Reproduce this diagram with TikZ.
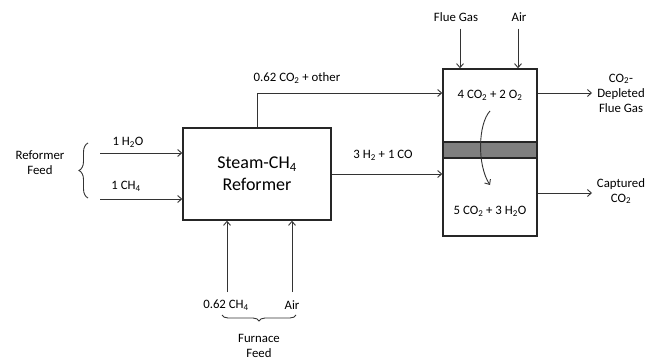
\documentclass[tikz,border=0pt]{standalone}
\usepackage{fontspec}
\setmainfont{Carlito}
\usetikzlibrary{arrows.meta, positioning, calc, decorations.pathreplacing}

\newcommand{\sbs}[1]{\textsubscript{#1}}

\begin{document}
\begin{tikzpicture}[
    x=1pt, y=-1pt,
    font=\fontsize{12.8}{15}\selectfont,
    unit/.style={draw=black!85, line width=1.5pt, inner sep=0pt},
    flow/.style={-{Straight Barb[length=4pt, width=7pt]}, line width=0.9pt, draw=black!80},
    brace/.style={decorate, decoration={brace, amplitude=9pt}, line width=0.9pt, draw=black!80},
    lbl/.style={align=center, inner sep=1pt}
]
    \useasboundingbox (0,0) rectangle (652,361);

    % Units
    \node (reformer) [unit, minimum width=148pt, minimum height=92pt, align=center,
        font=\fontsize{18}{22}\selectfont] at (257,174) {Steam-CH\sbs{4}\\Reformer};
    \node (upper) [unit, minimum width=94pt, minimum height=73pt] at (490,105.5) {};
    \node (lower) [unit, minimum width=94pt, minimum height=78pt] at (490,197) {};
    \node (membrane) [unit, fill=black!50, minimum width=94pt, minimum height=16pt] at (490,150) {};
    \node (retentate) [lbl] at (490,95) {4 CO\sbs{2} + 2 O\sbs{2}};
    \node (permeate) [lbl] at (490,211) {5 CO\sbs{2} + 3 H\sbs{2}O};

    % Labels
    \node (h2o) [lbl] at (128,142) {1 H\sbs{2}O};
    \node (ch4) [lbl] at (126,186) {1 CH\sbs{4}};
    \node (rfeed) [lbl] at (40,163) {Reformer\\Feed};
    \node (ch4f) [lbl] at (226,305) {0.62 CH\sbs{4}};
    \node (airf) [lbl] at (292,305) {Air};
    \node (ffeed) [lbl] at (259,346) {Furnace\\Feed};
    \node (offgas) [lbl] at (297,78) {0.62 CO\sbs{2} + other};
    \node (syngas) [lbl] at (383,155) {3 H\sbs{2} + 1 CO};
    \node (fluegas) [lbl] at (456,17) {Flue Gas};
    \node (airtop) [lbl] at (519,17) {Air};
    \node (depleted) [lbl] at (621,93) {CO\sbs{2}-\\Depleted\\Flue Gas};
    \node (captured) [lbl] at (621,191) {Captured\\CO\sbs{2}};

    % Free ends
    \coordinate (h2oin) at (100,153);
    \coordinate (ch4in) at (100,199);
    \coordinate (ch4up) at (227,292);
    \coordinate (airup) at (292,292);
    \coordinate (depout) at (592,93);
    \coordinate (capout) at (592,193);
    \coordinate (transA) at (490,111);
    \coordinate (transB) at (490,185);

    % Reformer feed
    \draw[flow] (h2oin) -- (h2oin -| reformer.west);
    \draw[flow] (ch4in) -- (ch4in -| reformer.west);
    \draw[flow] (ch4up) -- (ch4up |- reformer.south);
    \draw[flow] (airup) -- (airup |- reformer.south);

    % Reformer products
    \draw[flow] (reformer.north) |- ([yshift=12.5pt]upper.west);
    \draw[flow] (reformer.east) -- (reformer.east -| lower.west);

    % Separation unit
    \draw[flow] ([yshift=-6pt]fluegas.south -| 460,0) -- (460,0 |- upper.north);
    \draw[flow] ([yshift=-6pt]airtop.south -| 518,0) -- (518,0 |- upper.north);
    \draw[flow] ([yshift=12.5pt]upper.east) -- (depout);
    \draw[flow] ([yshift=4pt]lower.east) -- (capout);
    \draw[flow] (transA) .. controls (478,124) and (477,165) .. (transB);

    % Braces
    \draw[brace] (88,198) -- (88,143);
    \draw[brace, decoration={amplitude=6pt}] (296,315) -- (222,315);
\end{tikzpicture}
\end{document}
